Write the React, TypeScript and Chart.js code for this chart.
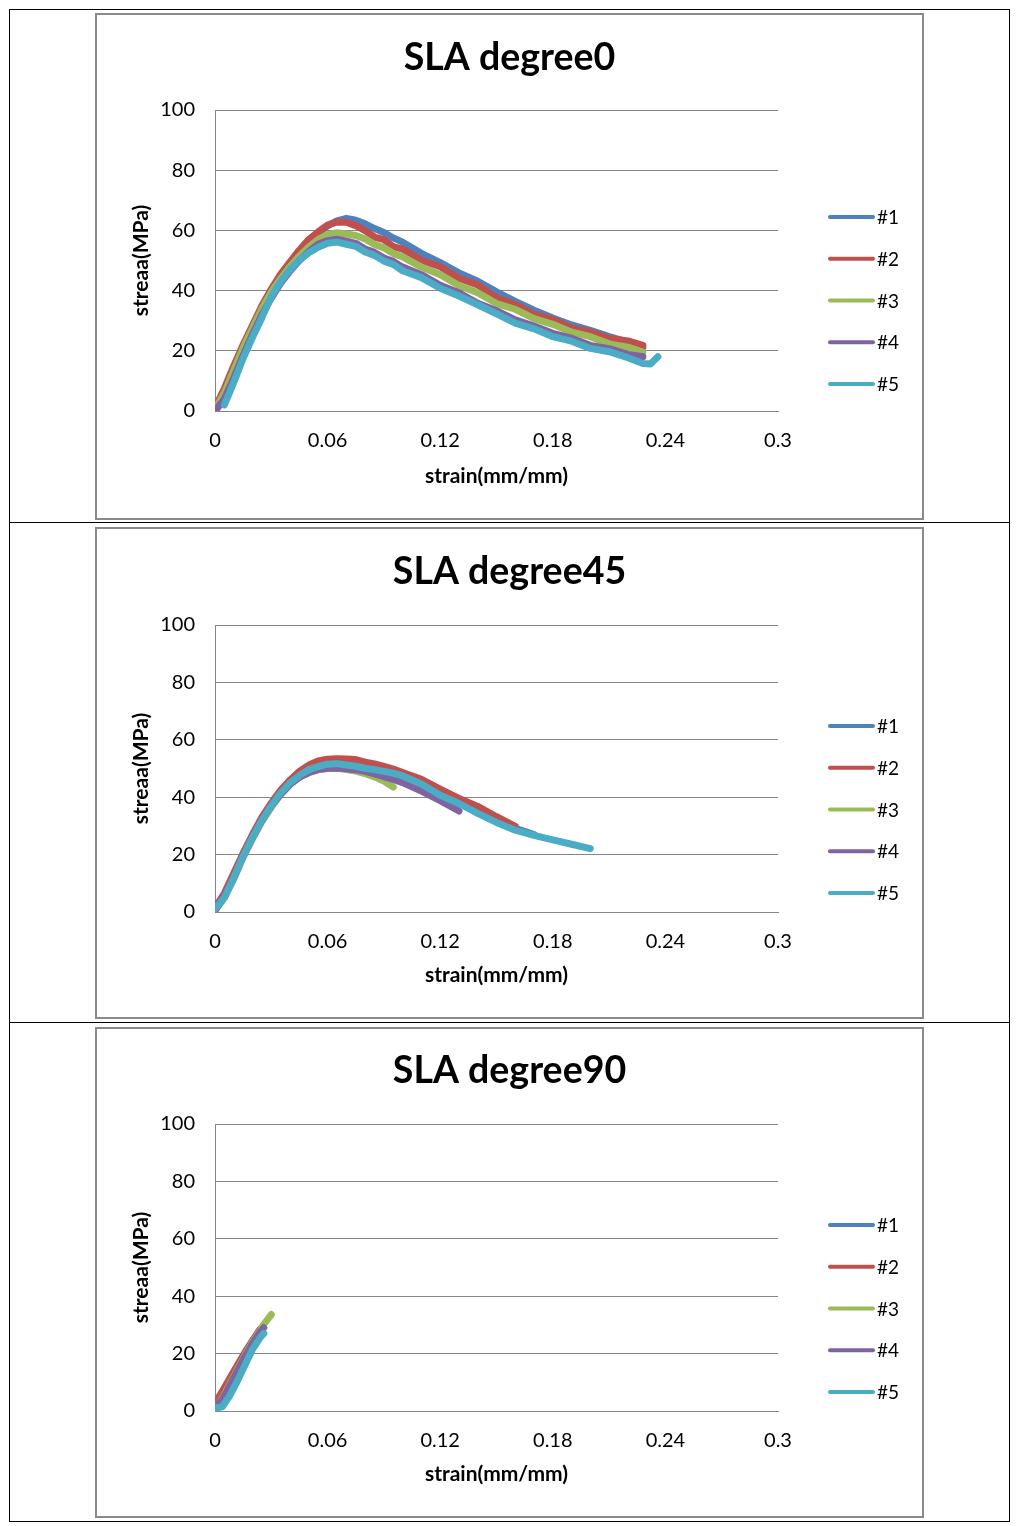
import React, { useEffect, useRef } from "react";
import { Chart, registerables } from "chart.js";

Chart.register(...registerables);

// ---------- data ----------
const SERIES_LABELS = ["#1", "#2", "#3", "#4", "#5"];
const SERIES_COLORS = ["#4F81BD", "#C0504D", "#9BBB59", "#8064A2", "#4BACC6"];
const X_TICKS = [0, 0.06, 0.12, 0.18, 0.24, 0.3];
const Y_TICKS = [0, 20, 40, 60, 80, 100];
const X_TITLE = "strain(mm/mm)";
const Y_TITLE = "streaa(MPa)";
const CHART_TITLES = ["SLA degree0", "SLA degree45", "SLA degree90"];

// SLA degree0
const STRAIN_0 = [0, 0.005, 0.01, 0.015, 0.02, 0.025, 0.03, 0.035, 0.04, 0.045, 0.05, 0.055, 0.06, 0.065, 0.07, 0.075, 0.08, 0.085, 0.09, 0.095, 0.1, 0.11, 0.12, 0.13, 0.14, 0.15, 0.16, 0.17, 0.18, 0.19, 0.2, 0.21, 0.22, 0.228, 0.232, 0.236];
const D0_S1 = [0, 4, 11.5, 19, 26, 32.5, 38.5, 43.5, 48, 52.5, 56, 59, 61.5, 63.2, 64, 63.4, 62.2, 60.6, 59.3, 57.5, 56.1, 52.4, 49.3, 45.9, 43.1, 39.6, 36.4, 33.5, 30.9, 28.6, 26.8, 24.7, 22.9, 21];
const D0_S2 = [1, 7.5, 15, 22, 28.5, 35, 40.5, 45.5, 49.5, 53.5, 57, 59.5, 61.8, 62.8, 62.7, 61.6, 59.9, 57.8, 56.9, 54.6, 53.8, 50.1, 47.9, 44.1, 41.9, 37.6, 35.4, 32.1, 30.4, 27.6, 26.3, 24.1, 23.3, 21.8];
const D0_S3 = [0.5, 6, 13.5, 21, 27.5, 34, 39.5, 44, 48, 51.5, 54.5, 57, 58.6, 59.2, 58.8, 58.3, 57.2, 55.3, 54.2, 52.3, 51.2, 47.8, 45.3, 41.7, 39.3, 35.7, 33.8, 30.7, 28.8, 26.2, 24.7, 22.3, 21.2, 19.6];
const D0_S4 = [0, 4, 11, 18.5, 25.5, 32, 37.5, 42.5, 46.5, 50, 53, 55.5, 56.6, 57.1, 56.4, 55.7, 53.8, 52.7, 50.8, 49.7, 47.8, 45.3, 41.8, 39.3, 35.8, 33.3, 30.3, 28.2, 25.8, 24.2, 21.8, 20.7, 18.8, 18];
const D0_S5 = [null, 2, 9.5, 17.5, 24.5, 31, 38, 43, 47, 50.2, 52.6, 54.4, 55.7, 56.1, 55.4, 54.7, 52.8, 51.7, 49.8, 48.7, 46.6, 44.3, 40.8, 38.2, 35.3, 32.3, 29.2, 27.3, 24.7, 23.2, 20.8, 19.7, 17.7, 15.8, 15.6, 18];

// SLA degree45
const STRAIN_45 = [0, 0.005, 0.01, 0.015, 0.02, 0.025, 0.03, 0.035, 0.04, 0.045, 0.05, 0.055, 0.06, 0.065, 0.07, 0.075, 0.08, 0.085, 0.09, 0.095, 0.1, 0.11, 0.12, 0.13, 0.14, 0.15, 0.16, 0.17, 0.18, 0.19, 0.2];
const D45_S1 = [1, 5.5, 12.5, 20, 26.5, 32.5, 37.5, 42, 45.5, 48, 50, 51.2, 52, 52.2, 51.8, 51.4, 50.8, 50, 49.3, 48.6, 47.6, 45, 41.5, 38.5, 35.2, 31.8, 29.2, 27];
const D45_S2 = [1.5, 6.5, 13.5, 20.5, 27, 33, 38, 42.5, 46, 49, 51.2, 52.6, 53.2, 53.4, 53.3, 53.1, 52.2, 51.6, 50.7, 49.8, 48.6, 46.2, 42.8, 39.6, 36.8, 33.2, 29.8];
const D45_S3 = [0.5, 5, 11.5, 19, 25.5, 31.5, 36.5, 41, 44.5, 47, 48.5, 49.6, 50, 50.1, 49.6, 49.1, 48.2, 47.1, 45.6, 43.5];
const D45_S4 = [0.5, 5.5, 12, 19.5, 26, 32, 37, 41, 44.5, 47, 48.6, 49.6, 50.1, 50.2, 49.9, 49.6, 49, 48.1, 47.2, 46.2, 45.1, 42.1, 38.8, 35.2];
const D45_S5 = [1, 5, 12, 19.5, 26, 32, 37, 41.5, 45, 47.6, 49.6, 50.7, 51.5, 51.7, 51.2, 50.8, 50.1, 49.6, 49, 48.4, 47.4, 44.6, 40.7, 37.8, 34.4, 31.2, 28.5, 26.7, 25.1, 23.6, 22.1];

// SLA degree90
const STRAIN_90 = [0, 0.004, 0.008, 0.012, 0.016, 0.02, 0.024, 0.026, 0.03];
const D90_S1 = [1.5, 5, 10, 15, 20, 24.5, 28];
const D90_S2 = [2.5, 7, 11.5, 16, 20.5, 24.5, 28.5];
const D90_S3 = [1, 4.5, 9.5, 14.5, 19.5, 24, 28, 30.2, 33.6];
const D90_S4 = [1.5, 4, 9, 14, 19, 23.5, 27.5, 29];
const D90_S5 = [1, 1.5, 5.5, 10.5, 16, 21.5, 25.5, 27];

const PANELS = [
  { title: CHART_TITLES[0], strain: STRAIN_0, series: [D0_S1, D0_S2, D0_S3, D0_S4, D0_S5] },
  { title: CHART_TITLES[1], strain: STRAIN_45, series: [D45_S1, D45_S2, D45_S3, D45_S4, D45_S5] },
  { title: CHART_TITLES[2], strain: STRAIN_90, series: [D90_S1, D90_S2, D90_S3, D90_S4, D90_S5] },
];

// ---------- layout ----------
const FONT = "Lato, 'Open Sans', sans-serif";
const BOX_LEFT = 95;
const BOX_WIDTH = 829;
const CANVAS_W = BOX_WIDTH - 4;
const PLOT_LEFT = 118;
const PLOT_RIGHT = 681;
const LAYOUTS = [
  { boxTop: 13, boxH: 507, plotTop: 95, plotBottom: 396, titleY: 43, legendTop: 202 },
  { boxTop: 527, boxH: 492, plotTop: 96, plotBottom: 383, titleY: 43, legendTop: 197 },
  { boxTop: 1027, boxH: 491, plotTop: 95, plotBottom: 382, titleY: 42, legendTop: 196 },
];

const sideLegend = {
  id: "sideLegend",
  afterDraw(chart: any, _args: any, opts: any) {
    const ctx = chart.ctx;
    ctx.save();
    chart.data.datasets.forEach((ds: any, i: number) => {
      const y = opts.top + i * opts.gap;
      ctx.strokeStyle = ds.borderColor;
      ctx.lineWidth = 4;
      ctx.lineCap = "round";
      ctx.beginPath();
      ctx.moveTo(opts.x + 2, y);
      ctx.lineTo(opts.x + 45, y);
      ctx.stroke();
      ctx.fillStyle = "#000";
      ctx.font = `19px ${FONT}`;
      ctx.textBaseline = "middle";
      ctx.textAlign = "left";
      ctx.fillText(ds.label, opts.x + 49, y + 1);
    });
    ctx.restore();
  },
};

function Panel({ idx }: { idx: number }) {
  const ref = useRef<HTMLCanvasElement>(null);
  const p = PANELS[idx];
  const L = LAYOUTS[idx];
  const canvasH = L.boxH - 4;
  useEffect(() => {
    if (!ref.current) return;
    const titleFont = 37.5;
    const titleLH = titleFont * 1.2;
    const datasets = p.series.map((vals, i) => ({
      label: SERIES_LABELS[i],
      data: vals
        .map((v, j) => (v === null ? null : { x: p.strain[j], y: v }))
        .filter((d) => d !== null),
      borderColor: SERIES_COLORS[i],
      backgroundColor: SERIES_COLORS[i],
      borderWidth: 7,
      borderJoinStyle: "round",
      borderCapStyle: "round",
      pointRadius: 0,
      showLine: true,
      tension: 0,
      fill: false,
      order: 5 - i,
      yAxisID: "y",
    }));
    const chart = new Chart(ref.current, {
      type: "scatter",
      data: { datasets },
      plugins: [sideLegend],
      options: {
        animation: false,
        responsive: false,
        maintainAspectRatio: false,
        layout: { padding: 0 },
        plugins: {
          legend: { display: false },
          tooltip: { enabled: false },
          title: {
            display: true,
            text: p.title,
            color: "#000",
            font: { family: FONT, size: titleFont, weight: "bold", lineHeight: 1.2 },
            padding: { top: L.titleY - titleLH / 2, bottom: L.plotTop - (L.titleY + titleLH / 2) },
          },
          sideLegend: { x: 731, top: L.legendTop, gap: 41.75 },
        } as any,
        scales: {
          x: {
            type: "linear",
            min: 0,
            max: 0.3,
            afterFit: (s: any) => {
              s.height = canvasH - L.plotBottom;
            },
            afterBuildTicks: (s: any) => {
              s.ticks = X_TICKS.map((v) => ({ value: v }));
            },
            ticks: {
              color: "#000",
              padding: 18,
              maxRotation: 0,
              font: { family: FONT, size: 20 },
              callback: (v: any) => String(Number(v)),
            },
            grid: { display: false, drawTicks: false },
            border: { display: true, color: "#868686", width: 1 },
            title: {
              display: true,
              text: X_TITLE,
              color: "#000",
              font: { family: FONT, size: 21, weight: "bold", lineHeight: 1.2 },
              padding: { top: 0, bottom: 29 },
            },
          },
          y: {
            type: "linear",
            position: "left",
            min: 0,
            max: 100,
            afterFit: (s: any) => {
              s.width = PLOT_LEFT;
            },
            afterBuildTicks: (s: any) => {
              s.ticks = Y_TICKS.map((v) => ({ value: v }));
            },
            ticks: {
              color: "#000",
              padding: 20,
              font: { family: FONT, size: 20 },
            },
            grid: { color: "#868686", lineWidth: 1, drawTicks: false },
            border: { display: true, color: "#868686", width: 1 },
            title: {
              display: true,
              text: Y_TITLE,
              color: "#000",
              font: { family: FONT, size: 21, weight: "bold", lineHeight: 1.2 },
              padding: { top: 32, bottom: 0 },
            },
          },
          legendSpace: {
            type: "linear",
            position: "right",
            display: true,
            min: 0,
            max: 100,
            afterFit: (s: any) => {
              s.width = CANVAS_W - PLOT_RIGHT;
            },
            ticks: { display: false },
            grid: { display: false, drawTicks: false },
            border: { display: false },
            title: { display: false },
          },
        },
      } as any,
    });
    return () => chart.destroy();
  }, []);
  return (
    <div
      style={{
        position: "absolute",
        left: BOX_LEFT,
        top: L.boxTop,
        width: BOX_WIDTH,
        height: L.boxH,
        boxSizing: "border-box",
        border: "2px solid #8a8a8a",
        background: "#fff",
      }}
    >
      <canvas
        ref={ref}
        width={CANVAS_W}
        height={canvasH}
        style={{ display: "block", width: CANVAS_W, height: canvasH }}
      />
    </div>
  );
}

const line = (s: React.CSSProperties) => (
  <div style={{ position: "absolute", background: "#000", ...s }} />
);

export default function App() {
  return (
    <div style={{ position: "absolute", left: 0, top: 0, width: 1035, height: 1526, background: "#fff" }}>
      {line({ left: 9, top: 9, width: 1001, height: 1 })}
      {line({ left: 9, top: 522, width: 1001, height: 1 })}
      {line({ left: 9, top: 1022, width: 1001, height: 1 })}
      {line({ left: 9, top: 1521, width: 1001, height: 1 })}
      {line({ left: 9, top: 9, width: 1, height: 1513 })}
      {line({ left: 1009, top: 9, width: 1, height: 1513 })}
      <Panel idx={0} />
      <Panel idx={1} />
      <Panel idx={2} />
    </div>
  );
}
